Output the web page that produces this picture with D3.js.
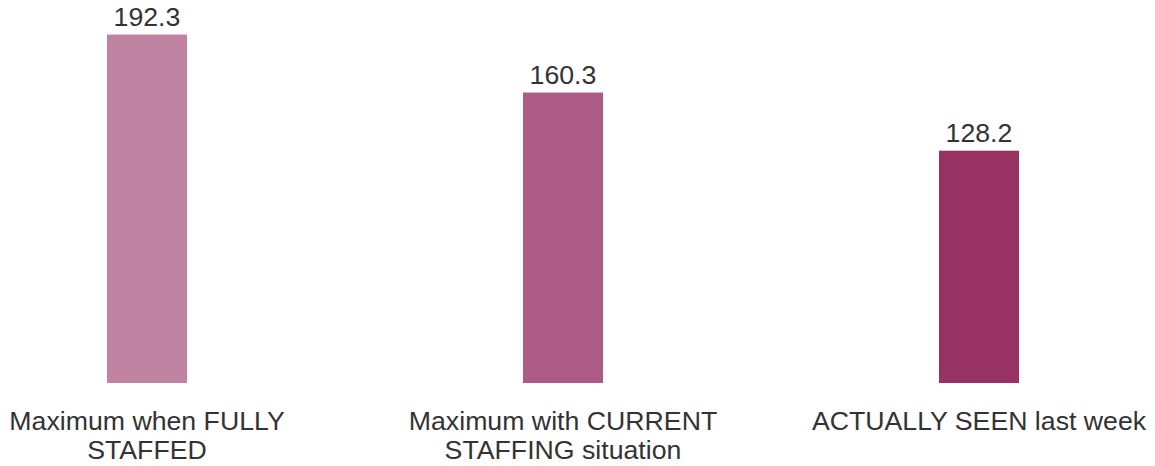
<!DOCTYPE html>
<html>
<head>
<meta charset="utf-8">
<script src="https://cdn.jsdelivr.net/npm/d3@7"></script>
<style>
  html, body { margin: 0; padding: 0; background: #fff; }
  svg { display: block; font-family: "Liberation Sans", Arial, sans-serif; }
</style>
</head>
<body>
<svg id="chart" width="1155" height="466"></svg>
<script>
const categories = ["Maximum when FULLY STAFFED", "Maximum with CURRENT STAFFING situation", "ACTUALLY SEEN last week"];
const values = [192.3, 160.3, 128.2];
const colors = ["#c084a2", "#ac5b84", "#983263"];

const svg = d3.select("#chart");
const baseY = 383;

const x = d3.scaleBand()
  .domain(categories)
  .range([-61, 1187])
  .paddingInner(0.8077)
  .paddingOuter(0.40385);

const y = d3.scaleLinear()
  .domain([0, 200])
  .range([baseY, baseY - 362.4]);

svg.selectAll("rect.bar")
  .data(categories)
  .join("rect")
  .attr("class", "bar")
  .attr("x", d => x(d))
  .attr("width", x.bandwidth())
  .attr("y", (d, i) => y(values[i]))
  .attr("height", (d, i) => y(0) - y(values[i]))
  .attr("fill", (d, i) => colors[i]);

svg.selectAll("text.val")
  .data(categories)
  .join("text")
  .attr("class", "val")
  .attr("x", d => x(d) + x.bandwidth() / 2)
  .attr("y", (d, i) => y(values[i]) - 9)
  .attr("text-anchor", "middle")
  .attr("font-size", "26.7px")
  .attr("fill", "#333")
  .text((d, i) => d3.format(".1f")(values[i]));

const axis = d3.axisBottom(x).tickSize(0).tickPadding(0);
const g = svg.append("g").attr("transform", `translate(0,${baseY})`).call(axis);
g.select(".domain").remove();
g.selectAll(".tick text")
  .attr("font-size", "26.7px")
  .attr("font-family", "'Liberation Sans', Arial, sans-serif")
  .attr("fill", "#333")
  .attr("y", 47)
  .attr("dy", 0)
  .each(function(d) {
    const t = d3.select(this);
    const words = d.split(/\s+/);
    t.text(null);
    const maxW = 360;
    let line = [];
    let lines = [];
    const tmp = t.append("tspan");
    for (const w of words) {
      line.push(w);
      tmp.text(line.join(" "));
      if (tmp.node().getComputedTextLength() > maxW && line.length > 1) {
        line.pop();
        lines.push(line.join(" "));
        line = [w];
      }
    }
    lines.push(line.join(" "));
    tmp.remove();
    lines.forEach((l, i) => {
      t.append("tspan").attr("x", 0).attr("dy", i === 0 ? 0 : 29).text(l);
    });
  });
</script>
</body>
</html>
